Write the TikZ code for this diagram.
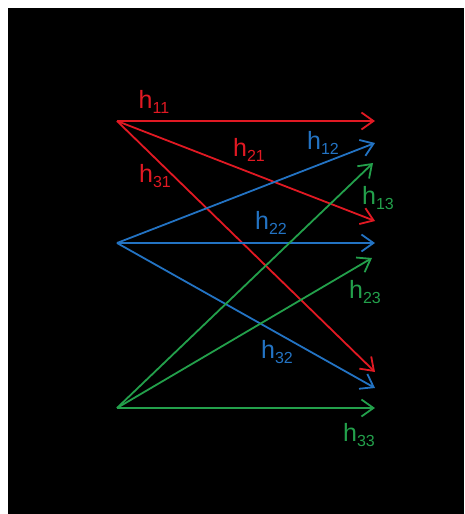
\documentclass[tikz,border=0pt]{standalone}
\usepackage{fontspec}
\setmainfont{Liberation Sans}
\usetikzlibrary{arrows.meta}
\definecolor{chred}{RGB}{225,25,35}
\definecolor{chblue}{RGB}{35,115,195}
\definecolor{chgreen}{RGB}{35,160,75}
\newcommand{\hgain}[1]{h\raisebox{-0.35ex}{\fontsize{16}{16}\selectfont #1}}
\tikzset{
  chan/.style={line width=1.8pt, -{Straight Barb[length=12pt,width=17pt,line width=1.8pt]}},
  gain/.style={font=\fontsize{25}{26}\selectfont, inner sep=0pt}
}

\begin{document}
\begin{tikzpicture}[x=1pt, y=-1pt]
\fill[white] (0,0) rectangle (464,514);
\fill[black] (8,8) rectangle (464,514);
% transmitters
\coordinate (tx1) at (117,121);
\coordinate (tx2) at (117,243);
\coordinate (tx3) at (117,408);
% receiver ends
\coordinate (r11) at (375,121);
\coordinate (r12) at (375,143);
\coordinate (r13) at (373,163);
\coordinate (r21) at (375,221);
\coordinate (r22) at (375,243);
\coordinate (r23) at (372,258);
\coordinate (r31) at (375,372);
\coordinate (r32) at (375,388);
\coordinate (r33) at (375,408);
% channels
\draw[chan, chred] (tx1) -- (r11);
\draw[chan, chred] (tx1) -- (r21);
\draw[chan, chred] (tx1) -- (r31);
\draw[chan, chblue] (tx2) -- (r12);
\draw[chan, chblue] (tx2) -- (r22);
\draw[chan, chblue] (tx2) -- (r32);
\draw[chan, chgreen] (tx3) -- (r13);
\draw[chan, chgreen] (tx3) -- (r23);
\draw[chan, chgreen] (tx3) -- (r33);
% gains
\node[gain, chred] (h11) at (154,102) {\hgain{11}};
\node[gain, chred] (h21) at (249,150) {\hgain{21}};
\node[gain, chred] (h31) at (155,176) {\hgain{31}};
\node[gain, chblue] (h12) at (323,143) {\hgain{12}};
\node[gain, chblue] (h22) at (271,223) {\hgain{22}};
\node[gain, chblue] (h32) at (277,352) {\hgain{32}};
\node[gain, chgreen] (h13) at (378,198) {\hgain{13}};
\node[gain, chgreen] (h23) at (365,292) {\hgain{23}};
\node[gain, chgreen] (h33) at (359,435) {\hgain{33}};
\end{tikzpicture}
\end{document}
